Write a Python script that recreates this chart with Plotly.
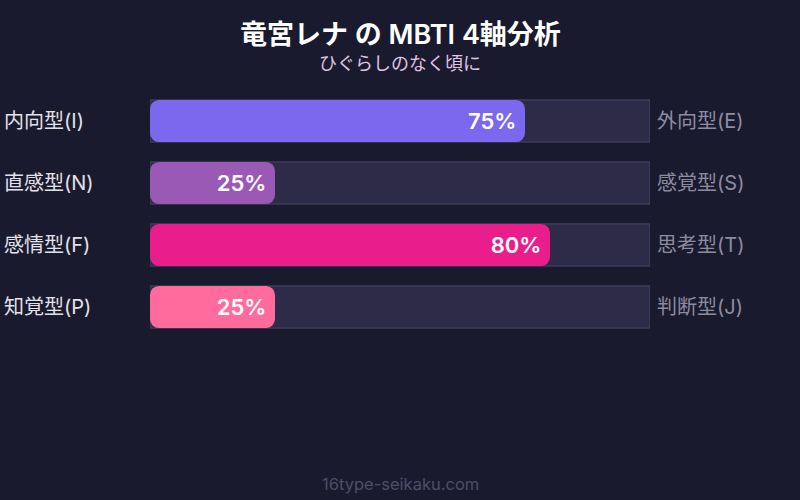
import plotly.graph_objects as go

left_labels = ["内向型(I)", "直感型(N)", "感情型(F)", "知覚型(P)"]
right_labels = ["外向型(E)", "感覚型(S)", "思考型(T)", "判断型(J)"]
values = [75, 25, 80, 25]
colors = ["#7B68EE", "#9B59B6", "#E91E8C", "#FF6B9D"]
track_max = [100, 100, 100, 100]

FONT = "Inter, Noto Sans CJK JP, sans-serif"
rows = list(range(len(values)))

fig = go.Figure()
# background track
fig.add_trace(go.Bar(
    x=track_max, y=rows, orientation="h",
    marker=dict(color="#2d2b48", line=dict(color="#48476a", width=1), cornerradius=0),
    width=0.68, hoverinfo="skip", showlegend=False,
))
# filled bar
fig.add_trace(go.Bar(
    x=values, base=[0] * len(values), y=rows, orientation="h",
    marker=dict(color=colors, cornerradius=9, line=dict(width=0)),
    width=0.68,
    text=[f"{v}%\u00a0" for v in values],
    textposition="inside", insidetextanchor="end",
    textfont=dict(family=FONT, size=22, color="#ffffff", weight=600),
    showlegend=False,
))

annotations = []
for i, (l, r) in enumerate(zip(left_labels, right_labels)):
    annotations.append(dict(x=2/800, xref="paper", y=i, yref="y", text=l, showarrow=False,
                            xanchor="left", yanchor="middle",
                            font=dict(family=FONT, size=20, color="#e2e2ea")))
    annotations.append(dict(x=655/800, xref="paper", y=i, yref="y", text=r, showarrow=False,
                            xanchor="left", yanchor="middle",
                            font=dict(family=FONT, size=20, color="#8c8ca0")))
annotations.append(dict(x=0.5, xref="paper", y=1 - 34/500, yref="paper", yanchor="middle",
                        text="竜宮レナ の MBTI 4軸分析",
                        showarrow=False, font=dict(family=FONT, size=27, color="#ffffff", weight=600)))
annotations.append(dict(x=0.5, xref="paper", y=1 - 63/500, yref="paper", yanchor="middle",
                        text="ひぐらしのなく頃に",
                        showarrow=False, font=dict(family=FONT, size=18, color="#e0c4e6")))
annotations.append(dict(x=0.5, xref="paper", y=1 - 484/500, yref="paper", yanchor="middle",
                        text="16type-seikaku.com",
                        showarrow=False, font=dict(family=FONT, size=16.5, color="#4e4e68")))

fig.update_layout(
    width=800, height=500,
    margin=dict(l=0, r=0, t=0, b=0),
    paper_bgcolor="#1a1a2e", plot_bgcolor="#1a1a2e",
    barmode="overlay",
    xaxis=dict(range=[0, 100], domain=[150/800, 650/800], visible=False, fixedrange=True),
    yaxis=dict(range=[3.5, -0.5], domain=[1 - 338/500, 1 - 90/500], visible=False, fixedrange=True),
    annotations=annotations,
)

fig.write_html("out.html", config={"displayModeBar": False},
               post_script="document.body.style.margin='0';document.body.style.background='#1a1a2e';")
